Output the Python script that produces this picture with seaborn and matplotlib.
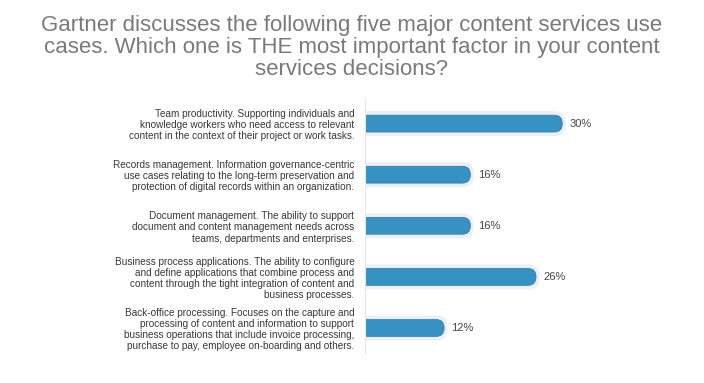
import numpy as np
import pandas as pd
import matplotlib.pyplot as plt
import seaborn as sns
from matplotlib.patches import FancyBboxPatch

# survey answers
labels = [
    "Team productivity. Supporting individuals and\nknowledge workers who need access to relevant\ncontent in the context of their project or work tasks.",
    "Records management. Information governance-centric\nuse cases relating to the long-term preservation and\nprotection of digital records within an organization.",
    "Document management. The ability to support\ndocument and content management needs across\nteams, departments and enterprises.",
    "Business process applications. The ability to configure\nand define applications that combine process and\ncontent through the tight integration of content and\nbusiness processes.",
    "Back-office processing. Focuses on the capture and\nprocessing of content and information to support\nbusiness operations that include invoice processing,\npurchase to pay, employee on-boarding and others.",
]
values = [30, 16, 16, 26, 12]

df = pd.DataFrame({"label": labels, "pct": values})

sns.set_style("white")
plt.rcParams["font.family"] = ["Liberation Sans", "DejaVu Sans"]

fig = plt.figure(figsize=(7.04, 3.83), dpi=100)
ax = fig.add_axes([0.519, 0.077, 0.40, 0.667])

sns.barplot(data=df, x="pct", y="label", color="#3591c1", width=0.33,
            ax=ax, saturation=1)

ax.set_xlim(0, 42.9)
ax.set_ylim(4.5, -0.5)

# swap flat bars for rounded ones with a soft halo
bars = list(ax.patches)
for b in bars:
    x0, y0 = b.get_x(), b.get_y()
    w, h = b.get_width(), b.get_height()
    b.remove()
    halo = FancyBboxPatch((x0 - 3, y0 - 0.08), w + 3.5, h + 0.16,
                          boxstyle="round,pad=0,rounding_size=1.6",
                          mutation_aspect=0.13,
                          fc="#eceff4", ec="none", zorder=1)
    ax.add_patch(halo)
    bar = FancyBboxPatch((x0 - 3, y0), w + 3, h,
                         boxstyle="round,pad=0,rounding_size=1.2",
                         mutation_aspect=0.1375,
                         fc="#3692c2", ec="#2b7aa8", lw=0.5, zorder=2)
    ax.add_patch(bar)
    ax.text(w + 1.1, y0 + h / 2, f"{int(w)}%", va="center", ha="left",
            fontsize=8, color="#444444")

ax.set_xlabel("")
ax.set_ylabel("")
ax.set_xticks([])
ax.tick_params(axis="y", length=0, pad=8)
for t in ax.get_yticklabels():
    t.set_fontsize(7.2)
    t.set_color("#383838")
    t.set_linespacing(1.15)
    t.set_multialignment("right")

for s in ["top", "right", "bottom"]:
    ax.spines[s].set_visible(False)
ax.spines["left"].set_color("#e6e6e6")
ax.spines["left"].set_linewidth(0.8)

fig.text(0.5, 0.962,
         "Gartner discusses the following five major content services use\n"
         "cases. Which one is THE most important factor in your content\n"
         "services decisions?",
         ha="center", va="top", fontsize=16, color="#7a7a7a",
         linespacing=1.08)

fig.savefig("out.png", dpi=100, facecolor="white")
